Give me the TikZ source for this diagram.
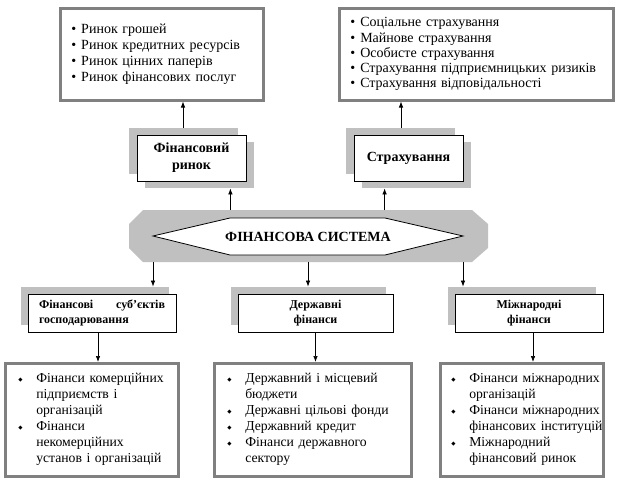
\documentclass[tikz,border=0pt]{standalone}
\usepackage{fontspec}
\setmainfont{Liberation Serif}
\newfontfamily\djv{DejaVu Sans}
\usetikzlibrary{shadows,calc,arrows.meta}
\definecolor{sg}{RGB}{192,192,192}
\definecolor{bg}{RGB}{128,128,128}
\newcommand\tbul{\makebox[10pt][l]{\textbullet}}
\newcommand\dbul{\makebox[18pt][l]{\raisebox{1pt}{\djv\fontsize{5.5}{5.5}\selectfont ◆}}}
\newcommand\dind{\hspace*{18pt}}
\newcommand\dl[1]{\mbox{\dbul #1}}
\newcommand\il[1]{\mbox{\dind #1}}
\begin{document}
\begin{tikzpicture}[x=1pt,y=-1pt,
  listbox/.style={draw=bg, line width=2.5pt, fill=white, align=left, inner ysep=0pt,
    font=\fontsize{13.7}{16}\selectfont, anchor=north west},
  bigbox/.style={draw=black, line width=0.8pt, fill=white, align=center,
    font=\bfseries\fontsize{14}{17}\selectfont, minimum width=109pt, minimum height=46pt, inner sep=0pt,
    general shadow={fill=sg, draw=none, shadow xshift=-8pt, shadow yshift=7pt},
    general shadow={fill=sg, draw=none, shadow xshift=8pt, shadow yshift=-7pt}},
  midbox/.style={draw=black, line width=0.8pt, fill=white,
    font=\bfseries\fontsize{12}{15}\selectfont, minimum height=38pt, inner ysep=0pt,
    general shadow={fill=sg, draw=none, shadow xshift=-7.5pt, shadow yshift=7pt}},
  arr/.style={-{Latex[length=6pt,width=4.5pt]}, line width=0.7pt}]
\useasboundingbox (0,0) rectangle (623,479);
\fill[white] (0,0) rectangle (623,479);

% top list boxes
\node[listbox, text width=181pt, inner xsep=11pt, minimum height=92pt,
  font=\fontsize{14}{16}\selectfont] (tl) at (59,7)
  {\tbul Ринок грошей\\ \tbul Ринок кредитних ресурсів\\ \tbul Ринок цінних паперів\\ \tbul Ринок фінансових послуг};
\node[listbox, text width=252pt, inner xsep=11pt, minimum height=92pt,
  font=\fontsize{14}{15.3}\selectfont] (tr) at (338,7)
  {\tbul Соціальне страхування\\ \tbul Майнове страхування\\ \tbul Особисте страхування\\
   \tbul Страхування підприємницьких ризиків\\ \tbul Страхування відповідальності};

% second level
\node[bigbox] (fr) at (191.5,158) {Фінансовий\\ринок};
\node[bigbox] (st) at (408.5,158) {Страхування};

% financial system
\fill[sg] (143,210) -- (472,210) -- (488,224) -- (488,248) -- (472,262) -- (143,262)
  -- (129,248) -- (129,224) -- cycle;
\draw[fill=white, line width=0.8pt] (153,236) -- (230,218) -- (385,218) -- (463,236)
  -- (385,255) -- (230,255) -- cycle;
\node[font=\bfseries\fontsize{14}{16}\selectfont] (fs) at (308,236.5) {ФІНАНСОВА СИСТЕМА};
\coordinate (fst) at (308,210);
\coordinate (fsb) at (308,262);

% middle row
\node[midbox, text width=126pt, inner xsep=11pt, align=left] (ms) at (102,313)
  {Фінансові\hfill суб’єктів\\господарювання};
\node[midbox, minimum width=155pt, align=center] (df) at (315.5,313) {Державні\\фінанси};
\node[midbox, minimum width=148pt, align=center] (mf) at (529,313) {Міжнародні\\фінанси};

% bottom list boxes
\node[listbox, text width=147pt, inner xsep=13pt, minimum height=113pt] (bl) at (4,362)
  {\dl{Фінанси комерційних}\\ \il{підприємств і}\\ \il{організацій}\\
   \dl{Фінанси}\\ \il{некомерційних}\\ \il{установ і організацій}};
\node[listbox, text width=171pt, inner xsep=13pt, minimum height=113pt] (bm) at (213,362)
  {\dl{Державний і місцевий}\\ \il{бюджети}\\ \dl{Державні цільові фонди}\\
   \dl{Державний кредит}\\ \dl{Фінанси державного}\\ \il{сектору}};
\node[listbox, text width=141pt, inner xsep=11pt, minimum height=113pt] (br) at (439,362)
  {\dl{Фінанси міжнародних}\\ \il{організацій}\\ \dl{Фінанси міжнародних}\\
   \il{фінансових інституцій}\\ \dl{Міжнародний}\\ \il{фінансовий ринок}};

% connectors
\coordinate (a1) at ($(fr.north)+(-8.5,-7)$);
\draw[arr] (a1) -- (a1 |- tl.south);
\coordinate (a2) at ($(st.north)+(-7.5,-7)$);
\draw[arr] (a2) -- (a2 |- tr.south);
\coordinate (a3) at ($(fr.south east)+(-16,7)$);
\draw[arr] (a3 |- fst) -- (a3);
\coordinate (a4) at ($(st.south west)+(31,7)$);
\draw[arr] (a4 |- fst) -- (a4);
\coordinate (a5) at ($(ms.north)+(51,-7)$);
\draw[arr] (a5 |- fsb) -- (a5);
\coordinate (a6) at ($(df.north)+(-7.5,-7)$);
\draw[arr] (a6 |- fsb) -- (a6);
\coordinate (a7) at ($(mf.north)+(-66,-7)$);
\draw[arr] (a7 |- fsb) -- (a7);
\coordinate (a8) at ($(ms.south)+(-4,0)$);
\draw[arr] (a8) -- (a8 |- bl.north);
\draw[arr] (df.south) -- (df.south |- bm.north);
\coordinate (a9) at ($(mf.south)+(4,0)$);
\draw[arr] (a9) -- (a9 |- br.north);
\end{tikzpicture}
\end{document}
